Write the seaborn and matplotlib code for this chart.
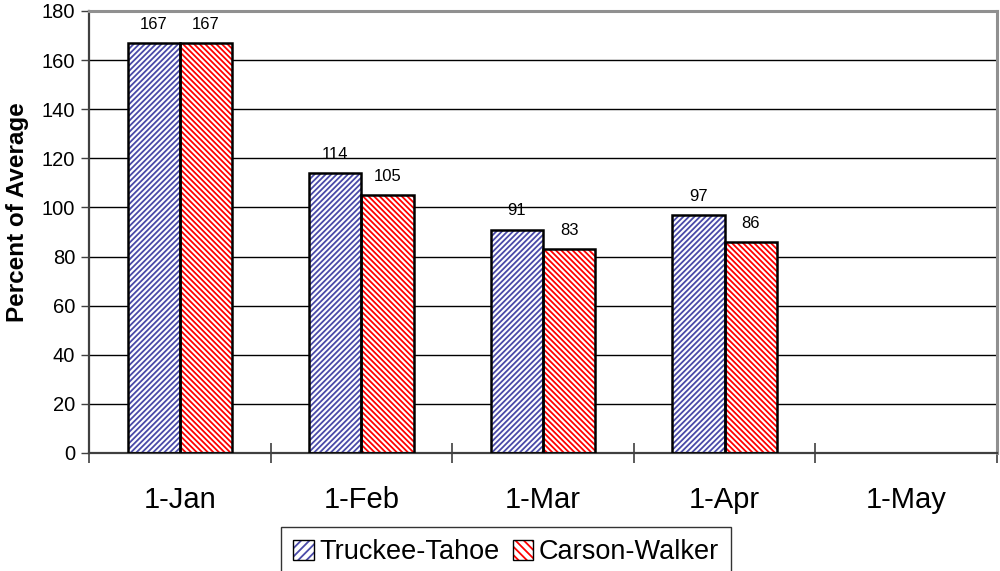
import matplotlib
matplotlib.use("Agg")
import matplotlib.pyplot as plt
from matplotlib.patches import Rectangle, Patch
from matplotlib.legend_handler import HandlerTuple
import numpy as np
import pandas as pd
import seaborn as sns

dates = ["1-Jan", "1-Feb", "1-Mar", "1-Apr", "1-May"]
series_names = ["Truckee-Tahoe", "Carson-Walker"]
truckee_tahoe = [167, 114, 91, 97, np.nan]
carson_walker = [167, 105, 83, 86, np.nan]
y_ticks = [0, 20, 40, 60, 80, 100, 120, 140, 160, 180]

hatch_colors = {"Truckee-Tahoe": "#4a4aa8", "Carson-Walker": "#ff0000"}
hatches = {"Truckee-Tahoe": "/" * 6, "Carson-Walker": "\\" * 6}

df = pd.DataFrame({
    "date": dates * 2,
    "series": [series_names[0]] * len(dates) + [series_names[1]] * len(dates),
    "value": truckee_tahoe + carson_walker,
})

sns.set_style("white")
plt.rcParams["font.family"] = ["Liberation Sans", "DejaVu Sans"]
plt.rcParams["hatch.linewidth"] = 1.3
plt.rcParams["text.color"] = "black"
plt.rcParams["axes.labelcolor"] = "black"
plt.rcParams["xtick.color"] = "black"
plt.rcParams["ytick.color"] = "black"

fig = plt.figure(figsize=(10, 5.71), dpi=100)
ax = fig.add_axes([0.089, 1 - 453 / 571, 0.908, (453 - 11) / 571])

sns.barplot(data=df, x="date", y="value", hue="series", order=dates,
            hue_order=series_names, palette={s: "white" for s in series_names},
            width=0.575, gap=0, ax=ax, legend=False, saturation=1,
            err_kws={"linewidth": 0})

for cont, name in zip(ax.containers, series_names):
    for bar in cont:
        bar.set_facecolor("white")
        bar.set_edgecolor(hatch_colors[name])
        bar.set_hatch(hatches[name])
        bar.set_linewidth(0)
        h = bar.get_height()
        if np.isfinite(h) and h > 0:
            ax.add_patch(Rectangle(bar.get_xy(), bar.get_width(), h, fill=False,
                                   edgecolor="black", linewidth=1.8, zorder=3))
    ax.bar_label(cont, fmt="%d", padding=8, fontsize=12, color="black")

ax.set_ylim(0, 180)
ax.set_xlim(-0.5, 4.5)
ax.set_yticks(y_ticks)
ax.set_axisbelow(True)
ax.yaxis.grid(True, color="black", linewidth=1.0)
ax.xaxis.grid(False)

ax.set_xlabel("")
ax.set_ylabel("Percent of Average", fontsize=17.5, fontweight="bold")
ax.yaxis.set_label_coords(-0.066, 0.545)
ax.tick_params(axis="y", labelsize=14.5, length=6, width=1, direction="out",
               color="#404040", labelcolor="black", pad=4, left=True)
ax.tick_params(axis="x", which="major", length=0, labelsize=21, pad=24,
               labelcolor="black")
ax.set_xticks(np.arange(-0.5, 5, 1), minor=True)
ax.tick_params(axis="x", which="minor", direction="inout", length=14, width=1.2,
               color="#404040", bottom=True)

for side in ["left", "bottom"]:
    ax.spines[side].set_color("#404040")
    ax.spines[side].set_linewidth(1.6)
for side in ["top", "right"]:
    ax.spines[side].set_visible(True)
    ax.spines[side].set_color("#909090")
    ax.spines[side].set_linewidth(2.2)

handles = []
for name in series_names:
    hatched = Patch(facecolor="white", edgecolor=hatch_colors[name],
                    hatch=hatches[name][:4], linewidth=0)
    border = Patch(facecolor="none", edgecolor="black", linewidth=1.0)
    handles.append((hatched, border))

leg = fig.legend(handles, series_names, loc="upper center",
                 bbox_to_anchor=(0.506, 1 - 527 / 571), ncol=2, fontsize=19.5,
                 frameon=True, fancybox=False, edgecolor="black",
                 handlelength=0.75, handleheight=0.75, handletextpad=0.2,
                 columnspacing=0.5, borderpad=0.45, borderaxespad=0,
                 handler_map={tuple: HandlerTuple(ndivide=1, pad=0)})
leg.get_frame().set_linewidth(1.0)
for t in leg.get_texts():
    t.set_color("black")

fig.savefig("out.png", dpi=100)
